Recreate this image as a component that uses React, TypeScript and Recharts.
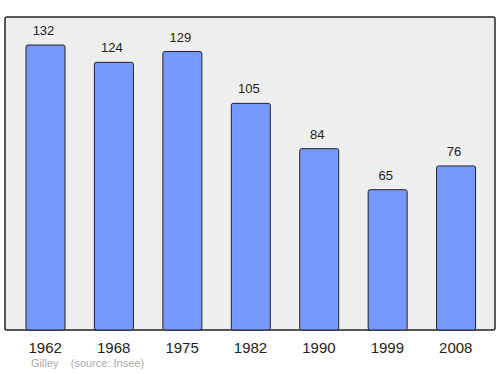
import { BarChart, Bar, XAxis, YAxis, CartesianGrid, LabelList, usePlotArea } from 'recharts'

// Population of Gilley, census years
const years = ['1962', '1968', '1975', '1982', '1990', '1999', '2008']
const population = [132, 124, 129, 105, 84, 65, 76]

const data = years.map((year, i) => ({ year, value: population[i] }))

const FONT = '"Liberation Sans", Arial, sans-serif'

// Frame round the plot area
function PlotFrame() {
  const area = usePlotArea()
  if (!area) return null
  return (
    <rect
      x={area.x}
      y={area.y}
      width={area.width}
      height={area.height}
      rx={2}
      fill="none"
      stroke="#222"
      strokeWidth={1.5}
    />
  )
}

export default function App() {
  return (
    <div style={{ position: 'absolute', left: 0, top: 0, width: 500, height: 374, background: '#fff', fontFamily: FONT }}>
      <BarChart width={500} height={374} data={data} margin={{ top: 17, right: 5, left: 5, bottom: 0 }} barSize={39}>
        <CartesianGrid fill="#eeeeee" horizontal={false} vertical={false} />
        <XAxis
          dataKey="year"
          height={44}
          axisLine={false}
          tickLine={false}
          tickMargin={6}
          padding={{ left: 6, right: 5 }}
          tick={{ fill: '#222', fontSize: 15, fontFamily: FONT }}
          interval={0}
        />
        <YAxis hide domain={[0, 145]} />
        <Bar dataKey="value" fill="#7799ff" stroke="#222" strokeWidth={1} radius={2} isAnimationActive={false}>
          <LabelList dataKey="value" position="top" offset={10} dx={-2} fill="#222" fontSize={13} fontFamily={FONT} />
        </Bar>
        <PlotFrame />
      </BarChart>
      <div style={{ position: 'absolute', left: 31, top: 357, fontSize: 11, color: '#aaa', whiteSpace: 'pre' }}>
        {'Gilley    (source: Insee)'}
      </div>
    </div>
  )
}
